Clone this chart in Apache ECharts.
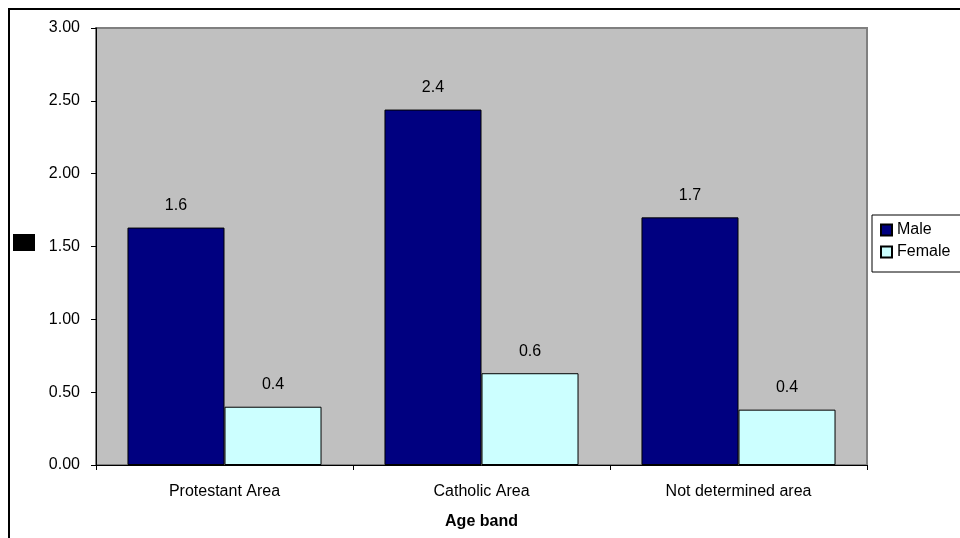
<!DOCTYPE html>
<html>
<head>
<meta charset="utf-8">
<script src="https://cdn.jsdelivr.net/npm/echarts@6/dist/echarts.min.js"></script>
<style>
  html, body { margin: 0; padding: 0; background: #ffffff; }
  #chart { width: 960px; height: 538px; }
</style>
</head>
<body>
<div id="chart"></div>
<script>
// Area categories along the x axis
const categories = ['Protestant Area', 'Catholic Area', 'Not determined area'];
// Rates per area, by sex
const maleValues = [1.63, 2.44, 1.70];
const femaleValues = [0.40, 0.63, 0.38];
// Value axis range
const yMin = 0;
const yMax = 3;
const yStep = 0.5;

const FONT = 'Liberation Sans, Arial, sans-serif';

const chart = echarts.init(document.getElementById('chart'), null, { renderer: 'canvas' });

const barLabel = {
  show: true,
  position: 'top',
  distance: 14,
  color: '#000000',
  fontFamily: FONT,
  fontSize: 16,
  formatter: p => p.value.toFixed(1)
};

chart.setOption({
  animation: false,
  backgroundColor: '#ffffff',
  textStyle: { fontFamily: FONT },
  grid: {
    left: 96, top: 28, right: 93, bottom: 73,
    show: true,
    backgroundColor: '#c0c0c0',
    borderColor: '#808080',
    borderWidth: 2
  },
  legend: {
    orient: 'vertical',
    left: 872,
    top: 215,
    padding: [7, 30, 12, 8],
    itemGap: 6,
    itemWidth: 11,
    itemHeight: 11,
    borderColor: '#000000',
    borderWidth: 1,
    backgroundColor: '#ffffff',
    icon: 'rect',
    textStyle: { fontFamily: FONT, fontSize: 16, color: '#000000' },
    data: ['Male', 'Female']
  },
  xAxis: {
    type: 'category',
    data: categories,
    name: 'Age band',
    nameLocation: 'middle',
    nameGap: 49,
    nameTextStyle: { fontFamily: FONT, fontSize: 16, fontWeight: 'bold', color: '#000000' },
    axisLine: { lineStyle: { color: '#000000', width: 1 } },
    axisTick: { show: true, length: 5, lineStyle: { color: '#000000' } },
    axisLabel: { margin: 19, fontFamily: FONT, fontSize: 16, color: '#000000' }
  },
  yAxis: {
    type: 'value',
    min: yMin,
    max: yMax,
    interval: yStep,
    axisLine: { show: true, lineStyle: { color: '#000000', width: 1 } },
    axisTick: { show: true, length: 5, lineStyle: { color: '#000000' } },
    axisLabel: { margin: 16, fontFamily: FONT, fontSize: 16, color: '#000000', formatter: v => v.toFixed(2) },
    splitLine: { show: false }
  },
  series: [
    {
      name: 'Male',
      type: 'bar',
      data: maleValues,
      barGap: '0%',
      barCategoryGap: '24.5%',
      itemStyle: { color: '#000080', borderColor: '#000000', borderWidth: 1 },
      label: barLabel
    },
    {
      name: 'Female',
      type: 'bar',
      data: femaleValues,
      itemStyle: { color: '#ccffff', borderColor: '#000000', borderWidth: 1 },
      label: barLabel
    }
  ],
  graphic: [
    {
      type: 'rect',
      shape: { x: 9, y: 9, width: 1000, height: 600 },
      style: { fill: 'none', stroke: '#000000', lineWidth: 2 },
      silent: true
    },
    {
      type: 'rect',
      shape: { x: 13, y: 234, width: 22, height: 17 },
      style: { fill: '#000000' },
      silent: true
    }
  ]
});
</script>
</body>
</html>
